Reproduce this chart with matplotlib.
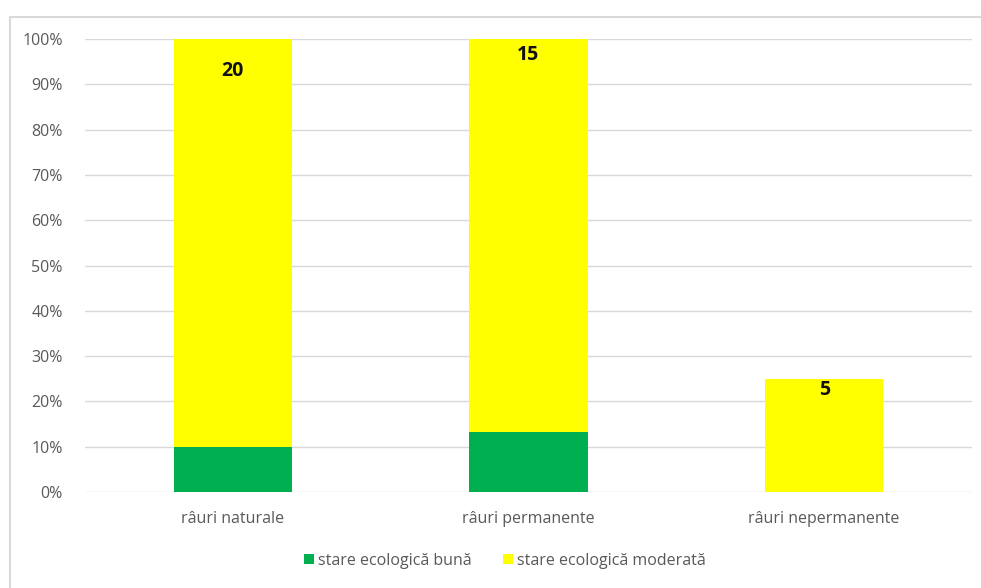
import matplotlib
matplotlib.use('Agg')
import matplotlib.pyplot as plt
from matplotlib.patches import Rectangle
from matplotlib.ticker import PercentFormatter
import numpy as np

categories = ['râuri naturale', 'râuri permanente', 'râuri nepermanente']
good = [10.0, 13.3, 0.0]        # stare ecologică bună (%)
moderate = [90.0, 86.7, 25.0]   # stare ecologică moderată (%)
counts = ['20', '15', '5']
label_drop = [7, 3.5, 2.5]      # how far below the bar top each count sits

plt.rcParams['font.family'] = ['Open Sans', 'DejaVu Sans']

fig = plt.figure(figsize=(9.81, 5.88), dpi=100)
ax = fig.add_axes([85 / 981, 1 - 492 / 588, 887 / 981, 453 / 588])

# outer chart frame (cut off at right and bottom like the source)
fig.patches.append(Rectangle((10 / 981, -0.01), 1.0, 1 - 17 / 588 + 0.01,
                             transform=fig.transFigure, fill=False,
                             edgecolor='#d9d9d9', linewidth=1.5))

x = np.arange(len(categories))
ax.bar(x, good, width=0.4, color='#00b050', label='stare ecologică bună', zorder=2)
ax.bar(x, moderate, width=0.4, bottom=good, color='#ffff00',
       label='stare ecologică moderată', zorder=2)

totals = np.array(good) + np.array(moderate)
for xi, t, c, d in zip(x, totals, counts, label_drop):
    ax.text(xi, t - d, c, ha='center', va='center', fontsize=14,
            fontweight='bold', color='#111111')

ax.set_xlim(-0.5, 2.5)
ax.set_ylim(0, 100)
ax.set_yticks(np.arange(0, 101, 10))
ax.yaxis.set_major_formatter(PercentFormatter(decimals=0))
ax.set_xticks(x)
ax.set_xticklabels(categories)
ax.tick_params(axis='both', length=0, colors='#595959', labelsize=11.5)
ax.tick_params(axis='x', pad=14)
ax.tick_params(axis='y', pad=16)
ax.grid(axis='y', color='#d9d9d9', linewidth=1, zorder=0)
ax.set_axisbelow(True)
for s in ax.spines.values():
    s.set_visible(False)

leg = fig.legend(loc='center', bbox_to_anchor=(505 / 981, 1 - 561 / 588), ncol=2,
                 frameon=False, fontsize=11.5, handlelength=0.6, handleheight=0.6,
                 handletextpad=0.25, columnspacing=2.0)
for t in leg.get_texts():
    t.set_color('#595959')

fig.savefig('out.png', dpi=100)
